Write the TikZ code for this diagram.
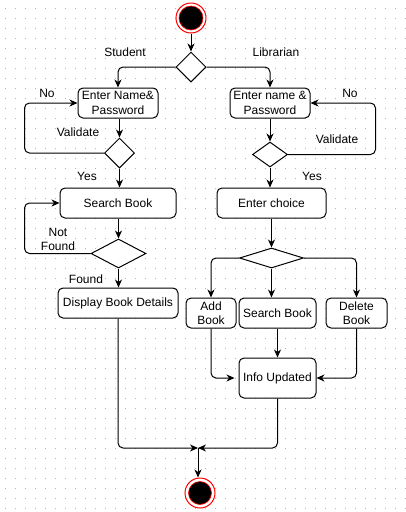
\documentclass[tikz,border=0pt]{standalone}
\usepackage{fontspec}
\setmainfont{Liberation Sans}
\usetikzlibrary{shapes.geometric,arrows.meta,calc}
\begin{document}
\begin{tikzpicture}[x=1pt,y=-1pt,
  every node/.style={font=\fontsize{12}{14.5}\selectfont},
  box/.style={draw, rounded corners=5pt, line width=1pt, align=center, inner sep=0pt, fill=white},
  dia/.style={draw, diamond, line width=1pt, inner sep=0pt, fill=white},
  arr/.style={line width=1pt, rounded corners=5pt, -{Stealth[length=8pt,width=7pt,inset=2.5pt]}},
  ln/.style={line width=1pt, rounded corners=5pt},
  lbl/.style={align=center, inner sep=0pt}]
\useasboundingbox (0,0) rectangle (405,512);
\fill[white] (0,0) rectangle (405,512);
\foreach \gx in {5,15,...,405} {
  \foreach \gy in {8,18,...,512} {
    \fill[black!30] (\gx-0.5,\gy-0.5) rectangle (\gx+0.5,\gy+0.5);
  }
}
% start
\node[circle, draw=red, line width=1pt, minimum size=30pt, inner sep=0pt, fill=white] (start) at (191,18) {};
\node[circle, draw=red, fill=black, line width=0.6pt, minimum size=24pt, inner sep=0pt] at (start) {};
% diamonds
\node[dia, minimum width=30pt, minimum height=30pt] (d1) at (191,67) {};
\node[dia, minimum width=30pt, minimum height=30pt] (d2) at (119.5,153) {};
\node[dia, minimum width=35pt, minimum height=25pt] (d3) at (270,154.5) {};
\node[dia, minimum width=55pt, minimum height=29pt] (d4) at (118.5,253.5) {};
\node[dia, minimum width=64pt, minimum height=20pt] (d5) at (271.5,258) {};
% boxes
\node[box, minimum width=80pt, minimum height=30pt] (e1) at (118,103) {Enter Name\&\\Password};
\node[box, minimum width=80pt, minimum height=30pt] (e2) at (270,103) {Enter name \&\\Password};
\node[box, minimum width=116pt, minimum height=30pt] (sb) at (118,203) {Search Book};
\node[box, minimum width=109pt, minimum height=30pt] (ec) at (271.5,203) {Enter choice};
\node[box, minimum width=120pt, minimum height=30pt] (disp) at (118,303) {Display Book Details};
\node[box, minimum width=50pt, minimum height=30pt] (add) at (211,313) {Add\\Book};
\node[box, minimum width=77pt, minimum height=30pt] (sb2) at (277.5,313) {Search Book};
\node[box, minimum width=61pt, minimum height=30pt] (del) at (356.5,313) {Delete\\Book};
\node[box, minimum width=77pt, minimum height=40pt] (info) at (277.5,378) {Info Updated};
% end
\node[circle, draw=red, line width=1pt, minimum size=30pt, inner sep=0pt, fill=white] (end) at (200,493) {};
\node[circle, draw=red, fill=black, line width=0.6pt, minimum size=23pt, inner sep=0pt] at (end) {};
\coordinate (m) at (198,448);
% labels
\node[lbl] (lstu) at (125,52) {Student};
\node[lbl] (llib) at (276,52) {Librarian};
\node[lbl] (lno1) at (47,93) {No};
\node[lbl] (lval1) at (78,132) {Validate};
\node[lbl] (lno2) at (350,93) {No};
\node[lbl] (lval2) at (337,139) {Validate};
\node[lbl] (lyes1) at (87,176) {Yes};
\node[lbl] (lyes2) at (312,176) {Yes};
\node[lbl] (lnf) at (58,239.5) {Not\\Found};
\node[lbl] (lfound) at (86,279) {Found};
% connectors
\draw[arr] (start) -- (d1);
\draw[arr] (d1.west) -| (e1.north);
\draw[arr] (d1.east) -| (e2.north);
\draw[arr] (e1.south -| d2.north) -- (d2.north);
\draw[arr] (d2.west) -- ++(-79.5,0) |- (e1.west);
\draw[arr] (d2.south) -- (d2.south |- sb.north);
\draw[arr] (e2.south) -- (d3.north);
\draw[arr] (d3.east) -- ++(87.5,0) |- (e2.east);
\draw[arr] (d3.south) -- (d3.south |- ec.north);
\draw[arr] (sb.south -| d4.north) -- (d4.north);
\draw[arr] (d4.west) -- ++(-66,0) |- (sb.west);
\draw[arr] (d4.south) -- (d4.south |- disp.north);
\draw[arr] (ec.south) -- (d5.north);
\draw[arr] (d5.west) -| (add.north);
\draw[arr] (d5.east) -| (del.north);
\draw[arr] (d5.south) -- (d5.south |- sb2.north);
\draw[arr] (add.south) |- ([xshift=-4pt]info.west);
\draw[arr] (del.south) |- (info.east);
\draw[arr] (sb2.south) -- (info.north);
\draw[arr] (disp.south) |- (m);
\draw[arr] (info.south) |- (m);
\draw[arr] (m) -- (m |- end.north);
\end{tikzpicture}
\end{document}
